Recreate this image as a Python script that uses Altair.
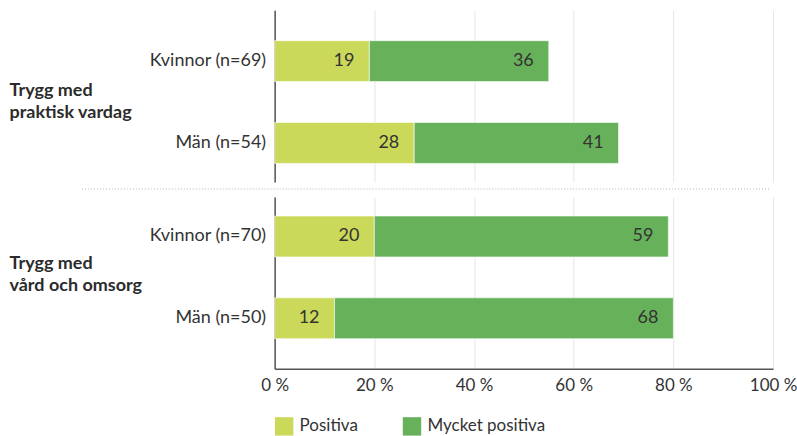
import altair as alt
import pandas as pd

# Survey shares (%) per question group and respondent category
groups = ["Trygg med praktisk vardag", "Trygg med vård och omsorg"]
group_titles = [["Trygg med", "praktisk vardag"], ["Trygg med", "vård och omsorg"]]
rows = [["Kvinnor (n=69)", "Män (n=54)"], ["Kvinnor (n=70)", "Män (n=50)"]]
positiva = [[19, 28], [20, 12]]
mycket_positiva = [[36, 41], [59, 68]]
series = ["Positiva", "Mycket positiva"]
colors = ["#cbd95a", "#67b15b"]
x_ticks = [0, 20, 40, 60, 80, 100]

FONT = "Lato"
TEXT = "#333333"
AXIS = "#555555"

records = []
for gi, g in enumerate(groups):
    for ri, r in enumerate(rows[gi]):
        start = 0
        for si, s in enumerate(series):
            v = [positiva, mycket_positiva][si][gi][ri]
            records.append(dict(group=g, row=r, series=s, order=si,
                                value=v, start=start, end=start + v))
            start += v
df = pd.DataFrame(records)


def panel(i, bottom):
    base = alt.Chart(df[df.group == groups[i]])
    align = 0.62 if i == 0 else 0.387
    y = alt.Y(
        "row:N", sort=rows[i],
        scale=alt.Scale(paddingInner=0.5, paddingOuter=0.3, align=align),
        axis=alt.Axis(
            title=group_titles[i], titleAngle=0, titleAlign="left",
            titleBaseline="middle", titleX=-266, titleY=80 if i == 0 else 67,
            titleFont=FONT, titleFontSize=18, titleFontWeight="bold",
            titleColor="#2b2b2b", titleLineHeight=22,
            labelFont=FONT, labelFontSize=18, labelColor=TEXT, labelPadding=9,
            ticks=False, domain=True, domainColor=AXIS, domainWidth=1.5,
            grid=False,
        ),
    )
    if bottom:
        xaxis = alt.Axis(
            values=x_ticks, labelExpr="datum.value + ' %'", title=None,
            labelFont=FONT, labelFontSize=17, labelColor=TEXT, labelPadding=9,
            labelFlush=False, labelOverlap=False,
            ticks=False, domain=True, domainColor=AXIS, domainWidth=1.5,
            grid=True, gridColor="#e6e6e6",
        )
    else:
        xaxis = alt.Axis(values=x_ticks, labels=False, ticks=False, domain=False,
                         title=None, grid=True, gridColor="#e6e6e6")
    x = alt.X("start:Q", scale=alt.Scale(domain=[0, 100], nice=False), axis=xaxis)

    bars = base.mark_bar(size=41, stroke="white", strokeWidth=0.6).encode(
        y=y, x=x, x2="end:Q",
        color=alt.Color("series:N", scale=alt.Scale(domain=series, range=colors),
                        legend=alt.Legend(title=None)),
        order="order:Q",
    )
    labels = base.mark_text(align="right", baseline="middle", dx=-15,
                            font=FONT, fontSize=18, color=TEXT).encode(
        y=alt.Y("row:N", sort=rows[i]), x="end:Q", text="value:Q"
    )
    layers = [bars, labels]
    if bottom:
        sep = alt.Chart(pd.DataFrame({"k": [0]})).mark_rule(
            color="#b0b0b0", strokeDash=[1, 2], strokeWidth=1
        ).encode(x=alt.value(-193), x2=alt.value(497), y=alt.value(-8))
        layers.append(sep)
    return alt.layer(*layers).properties(width=499, height=172)


chart = alt.vconcat(panel(0, False), panel(1, True), spacing=6).configure_view(
    stroke=None
).configure_legend(
    orient="bottom", direction="horizontal", symbolType="square",
    symbolSize=340, symbolStrokeWidth=0, labelFont=FONT, labelFontSize=17,
    labelColor=TEXT, columnPadding=44, labelOffset=6, offset=23,
).properties(
    padding={"left": 9, "top": 10, "right": 0, "bottom": 0},
    background="white",
)

chart.save("out.html", embed_options={"renderer": "svg", "actions": False})
